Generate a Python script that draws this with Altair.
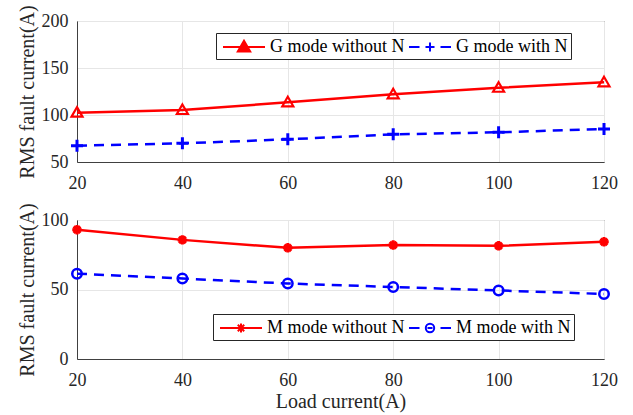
import altair as alt
import pandas as pd

# ---- data ----
load_current = [20, 40, 60, 80, 100, 120]
g_without_n = [102.5, 105.3, 113.5, 122.0, 129.0, 134.8]
g_with_n = [67.4, 69.9, 74.1, 79.4, 81.6, 85.1]
m_without_n = [93.0, 85.7, 80.0, 82.0, 81.4, 84.3]
m_with_n = [61.4, 57.9, 54.3, 51.8, 49.3, 46.8]

top_names = ["G mode without N", "G mode with N"]
bot_names = ["M mode without N", "M mode with N"]
x_ticks = [20, 40, 60, 80, 100, 120]
top_y_ticks = [50, 100, 150, 200]
bot_y_ticks = [0, 50, 100]

RED = "#ff0000"
BLUE = "#0000ff"
FONT = "Liberation Serif"
TXT = "#262626"

# marker paths (unit square -1..1)
TRI = "M0,-1.1L1.1,0.8L-1.1,0.8Z"
PLUS = "M-1,0H1M0,-1V1"
STAR = "M-1,0H1M0,-1V1M-0.7,-0.7L0.7,0.7M-0.7,0.7L0.7,-0.7"
# legend symbol paths (line + marker)
LEG_TRI = "M-2.1,0H2.1M0,-0.62L0.62,0.45L-0.62,0.45Z"
LEG_PLUS = "M-2.1,0H-1.05M1.05,0H2.1M-0.45,0H0.45M0,-0.45V0.45"
LEG_STAR = "M-2.1,0H2.1M-0.45,0H0.45M0,-0.45V0.45M-0.32,-0.32L0.32,0.32M-0.32,0.32L0.32,-0.32"
LEG_CIRC = "M-2.1,0H-1.05M1.05,0H2.1M0.42,0A0.42,0.42,0,1,1,-0.42,0A0.42,0.42,0,1,1,0.42,0M-0.25,0H0.25"


def series_df(values, name):
    return pd.DataFrame({"load": load_current, "current": values, "series": name})


def panel(vals_a, vals_b, names, y_dom, y_ticks, shapes_pts, leg_shapes, leg_fills,
          height, show_xtitle, leg_x, leg_y):
    x = alt.X("load:Q",
              scale=alt.Scale(domain=[20, 120], nice=False, zero=False),
              axis=alt.Axis(values=x_ticks, title="Load current(A)" if show_xtitle else None,
                            format="d"))
    y = alt.Y("current:Q",
              scale=alt.Scale(domain=y_dom, nice=False, zero=False),
              axis=alt.Axis(values=y_ticks, title="RMS fault current(A)", format="d"))
    da = series_df(vals_a, names[0])
    db = series_df(vals_b, names[1])
    line_a = alt.Chart(da).mark_line(color=RED, strokeWidth=2.5).encode(x=x, y=y)
    line_b = alt.Chart(db).mark_line(color=BLUE, strokeWidth=2.5, strokeDash=[10, 7]).encode(x=x, y=y)
    pa_shape, pa_size, pa_filled, pa_sw = shapes_pts[0]
    pb_shape, pb_size, pb_filled, pb_sw = shapes_pts[1]
    pts_a = alt.Chart(da).mark_point(shape=pa_shape, size=pa_size, filled=False,
                                     stroke=RED, fill=RED if pa_filled else "transparent",
                                     strokeWidth=pa_sw, opacity=1).encode(x=x, y=y)
    pts_b = alt.Chart(db).mark_point(shape=pb_shape, size=pb_size, filled=False,
                                     stroke=BLUE, fill=BLUE if pb_filled else "transparent",
                                     strokeWidth=pb_sw, opacity=1).encode(x=x, y=y)
    # legend carrier (no drawn marks)
    leg_df = pd.DataFrame({"series": names})
    legend = alt.Legend(orient="none", legendX=leg_x, legendY=leg_y, direction="horizontal",
                        columns=2, title=None, strokeColor=TXT, fillColor="white", padding=3,
                        labelFontSize=18, labelFont=FONT, labelColor="black",
                        symbolSize=400, symbolStrokeWidth=2, symbolOffset=14,
                        labelOffset=15, columnPadding=-3, cornerRadius=0)
    carrier = alt.Chart(leg_df).mark_point(filled=False, opacity=1).encode(
        stroke=alt.Stroke("series:N", scale=alt.Scale(domain=names, range=[RED, BLUE]),
                          legend=legend),
        fill=alt.Fill("series:N", scale=alt.Scale(domain=names, range=leg_fills), legend=legend),
        shape=alt.Shape("series:N", scale=alt.Scale(domain=names, range=leg_shapes), legend=legend),
    ).transform_filter("false")
    return alt.layer(line_a, line_b, pts_a, pts_b, carrier).properties(width=527, height=height)


top = panel(g_without_n, g_with_n, top_names, [50, 200], top_y_ticks,
            [(TRI, 100, False, 2.2), (PLUS, 144, False, 3)],
            [LEG_TRI, LEG_PLUS], [RED, "transparent"], 141, False, 139, 12)
bottom = panel(m_without_n, m_with_n, bot_names, [0, 100], bot_y_ticks,
               [(STAR, 90, True, 3), ("circle", 90, False, 2.5)],
               [LEG_STAR, LEG_CIRC], [RED, "transparent"], 139, True, 136, 94)

chart = alt.vconcat(top, bottom, spacing=9).resolve_scale(
    stroke="independent", fill="independent", shape="independent"
).resolve_legend(
    stroke="independent", fill="independent", shape="independent"
).properties(
    padding={"left": 16, "top": 4, "right": 5, "bottom": 2}
).configure(font=FONT).configure_view(
    stroke="#404040", strokeWidth=1
).configure_axis(
    labelFont=FONT, titleFont=FONT, labelFontSize=18, titleFontSize=20,
    titleFontWeight="normal", labelColor=TXT, titleColor=TXT, labelFlush=False,
    grid=True, gridColor="#e6e6e6", gridWidth=1,
    domainColor="#404040", domainWidth=1, ticks=False, labelPadding=9, titlePadding=4,
).configure_axisX(labelPadding=12, titlePadding=2)

chart.save("out.html", embed_options={"renderer": "svg", "actions": False})
